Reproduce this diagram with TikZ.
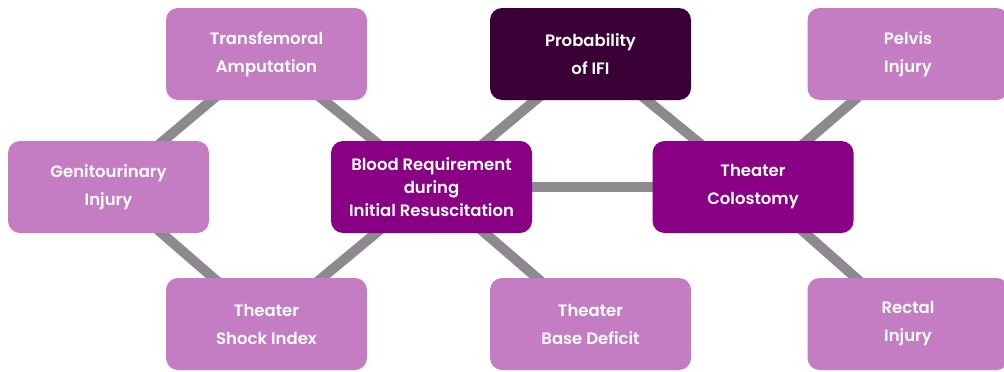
\documentclass[tikz,border=0pt]{standalone}
\usepackage{fontspec}
\setmainfont{Poppins}[UprightFont={* SemiBold}]
\usetikzlibrary{backgrounds}
\definecolor{lightp}{HTML}{C47CC2}
\definecolor{midp}{HTML}{8A0085}
\definecolor{darkp}{HTML}{3A0035}
\definecolor{edgegray}{HTML}{8E898E}
\tikzset{
  box/.style={rectangle, rounded corners=12pt, minimum width=201pt, minimum height=92pt,
    text=white, align=center, font=\fontsize{16.5}{28}\selectfont, inner sep=0pt},
  light/.style={box, fill=lightp},
  mid/.style={box, fill=midp},
  dark/.style={box, fill=darkp},
  link/.style={draw=edgegray, line width=10pt}
}
\begin{document}
\begin{tikzpicture}[x=1pt,y=-1pt]
\useasboundingbox (0,0) rectangle (1004,372);
\node[light] (trans) at (266.5,54) {Transfemoral\\Amputation};
\node[dark]  (prob)  at (590.5,54) {Probability\\of IFI};
\node[light] (pelvis) at (908,54) {Pelvis\\Injury};
\node[light] (genito) at (108.5,187) {Genitourinary\\Injury};
\node[mid]   (blood) at (431.5,187) {Blood Requirement\\[-5pt]during\\[-5pt]Initial Resuscitation};
\node[mid]   (colo)  at (753,187) {Theater\\Colostomy};
\node[light] (shock) at (266.5,324) {Theater\\Shock Index};
\node[light] (base)  at (590.5,324) {Theater\\Base Deficit};
\node[light] (rectal) at (908,324) {Rectal\\Injury};
\begin{scope}[on background layer]
\draw[link] (trans.center) -- (genito.center);
\draw[link] (trans.center) -- (blood.center);
\draw[link] (genito.center) -- (shock.center);
\draw[link] (shock.center) -- (blood.center);
\draw[link] (blood.center) -- (prob.center);
\draw[link] (blood.center) -- (base.center);
\draw[link] (blood.center) -- (colo.center);
\draw[link] (prob.center) -- (colo.center);
\draw[link] (colo.center) -- (pelvis.center);
\draw[link] (colo.center) -- (rectal.center);
\end{scope}
\end{tikzpicture}
\end{document}
